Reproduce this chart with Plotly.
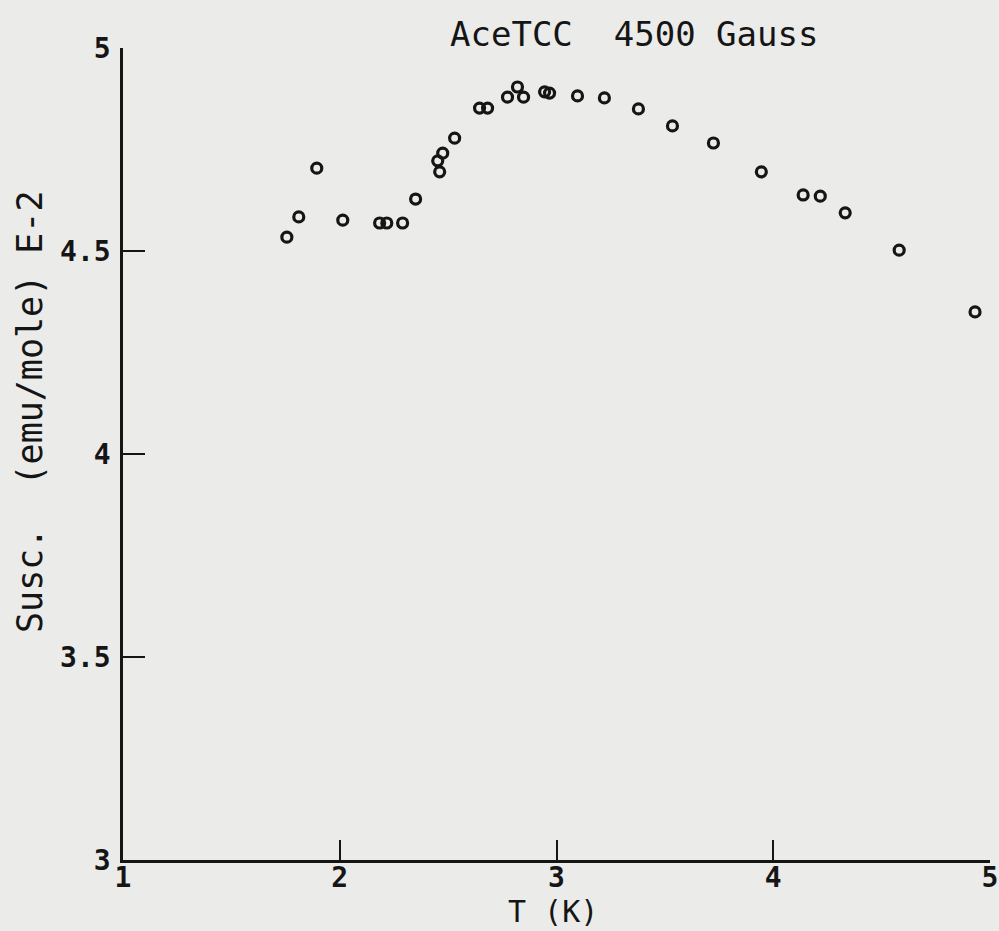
import plotly.graph_objects as go

# Data
temperature_K = [1.756, 1.811, 1.894, 2.014, 2.184, 2.217, 2.290, 2.350, 2.461, 2.452,
                 2.475, 2.530, 2.645, 2.682, 2.774, 2.820, 2.848, 2.945, 2.968, 3.097,
                 3.221, 3.378, 3.535, 3.724, 3.945, 4.138, 4.217, 4.332, 4.581, 4.931]
susceptibility = [4.534, 4.584, 4.704, 4.576, 4.569, 4.569, 4.569, 4.628, 4.695, 4.722,
                  4.741, 4.778, 4.852, 4.852, 4.879, 4.904, 4.879, 4.892, 4.889, 4.882,
                  4.877, 4.850, 4.808, 4.766, 4.695, 4.638, 4.635, 4.594, 4.502, 4.350]
x_ticks = [1, 2, 3, 4, 5]
x_tick_labels = ["1", "2", "3", "4", "5"]
y_ticks = [3, 3.5, 4, 4.5, 5]
y_tick_labels = ["3", "3.5", "4", "4.5", "5"]

title_text = "AceTCC  4500 Gauss"
x_title = "T (K)"
y_title = "Susc.  (emu/mole) E-2"

INK = "#151515"
BG = "#ebebea"
FONT = "DejaVu Sans Mono"

fig = go.Figure()
fig.add_trace(go.Scatter(
    x=temperature_K, y=susceptibility, mode="markers",
    marker=dict(symbol="circle-open", size=10, color=INK, line=dict(width=3.2, color=INK)),
    showlegend=False,
))

L, R, T, B = 123, 9, 48, 71
W, H = 999, 931
pw, ph = W - L - R, H - T - B

def px_x(px):
    return (px - L) / pw

def px_y(py):
    return (H - B - py) / ph

fig.update_layout(
    width=W, height=H,
    margin=dict(l=L, r=R, t=T, b=B, autoexpand=False),
    paper_bgcolor=BG, plot_bgcolor=BG,
    font=dict(family=FONT, color=INK),
    xaxis=dict(
        range=[1, 5], tickvals=x_ticks, ticktext=x_tick_labels,
        showline=True, linecolor=INK, linewidth=2.5, mirror=False,
        ticks="inside", ticklen=20, tickwidth=2, tickcolor=INK,
        showgrid=False, zeroline=False, ticklabelstandoff=-9,
        ticklabeloverflow="allow", automargin=False,
        tickfont=dict(family=FONT, size=28, color=INK, weight="bold"),
    ),
    yaxis=dict(
        range=[3, 5], tickvals=y_ticks, ticktext=y_tick_labels,
        showline=True, linecolor=INK, linewidth=2.5, mirror=False,
        ticks="inside", ticklen=22, tickwidth=2, tickcolor=INK,
        showgrid=False, zeroline=False, ticklabelstandoff=4,
        ticklabeloverflow="allow", automargin=False,
        tickfont=dict(family=FONT, size=28, color=INK, weight="bold"),
    ),
    annotations=[
        dict(text=title_text, xref="paper", yref="paper", x=px_x(634), y=px_y(34),
             showarrow=False, xanchor="center", yanchor="middle",
             font=dict(family=FONT, size=34, color=INK)),
        dict(text=x_title, xref="paper", yref="paper", x=px_x(553), y=px_y(931),
             showarrow=False, xanchor="center", yanchor="bottom",
             font=dict(family=FONT, size=30, color=INK)),
        dict(text=y_title, xref="paper", yref="paper", x=px_x(30), y=px_y(412),
             showarrow=False, xanchor="center", yanchor="middle", textangle=-90,
             font=dict(family=FONT, size=35, color=INK)),
    ],
)

fig.write_html("out.html")
